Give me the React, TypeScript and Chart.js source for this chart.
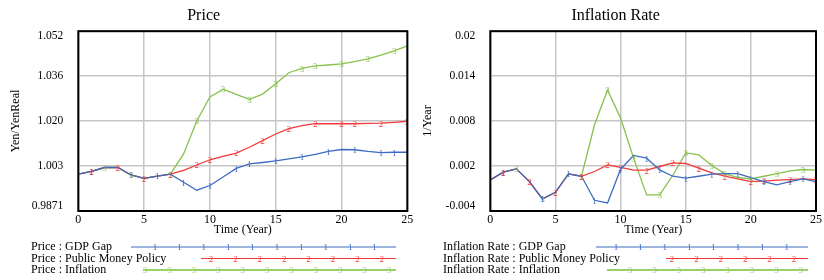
import React, { useEffect, useRef } from 'react';
import { Chart, registerables } from 'chart.js';

Chart.register(...registerables);

const years = [0, 1, 2, 3, 4, 5, 6, 7, 8, 9, 10, 11, 12, 13, 14, 15, 16, 17, 18, 19, 20, 21, 22, 23, 24, 25];

const priceGdpGap = [1.0004, 1.0014, 1.0028, 1.0028, 1.0001, 0.9989, 0.9997, 1.0004, 0.9975, 0.9946, 0.9963, 0.9994, 1.0025, 1.0041, 1.0046, 1.0052, 1.0059, 1.0066, 1.0075, 1.0086, 1.0093, 1.0092, 1.0086, 1.0082, 1.0083, 1.0083];
const pricePublicMoney = [1.0004, 1.0014, 1.0028, 1.0028, 1.0001, 0.9989, 0.9997, 1.0004, 1.0018, 1.0037, 1.0056, 1.0068, 1.0080, 1.0101, 1.0125, 1.0149, 1.0168, 1.0179, 1.0186, 1.0186, 1.0186, 1.0186, 1.0187, 1.0188, 1.0191, 1.0195];
const priceInflation = [1.0004, 1.0014, 1.0028, 1.0028, 1.0001, 0.9989, 0.9997, 1.0004, 1.0077, 1.0196, 1.0283, 1.0311, 1.0292, 1.0274, 1.0293, 1.0330, 1.0370, 1.0386, 1.0395, 1.0398, 1.0402, 1.0410, 1.0420, 1.0434, 1.0449, 1.0467];

const rateGdpGap = [0.00015, 0.00118, 0.00162, -0.00007, -0.0024, -0.0015, 0.00095, 0.00064, -0.00257, -0.00293, 0.00158, 0.00341, 0.00305, 0.00149, 0.00064, 0.00038, 0.00064, 0.00091, 0.001, 0.001, 0.00047, -0.00007, -0.00052, -0.00007, 0.00028, -0.00007];
const ratePublicMoney = [0.00015, 0.00118, 0.00162, -0.00007, -0.0024, -0.0015, 0.00095, 0.00064, 0.00127, 0.00215, 0.00181, 0.00145, 0.00145, 0.00194, 0.00242, 0.00234, 0.00171, 0.00108, 0.00064, 0.00028, -0.00007, 0.0, 0.00011, 0.0002, 0.00028, 0.0002];
const rateInflation = [0.00015, 0.00118, 0.00162, -0.00007, -0.0024, -0.0015, 0.00095, 0.00064, 0.00751, 0.01215, 0.0084, 0.00305, -0.00186, -0.00186, 0.00074, 0.00376, 0.00349, 0.00207, 0.001, 0.00047, 0.00028, 0.00064, 0.001, 0.00135, 0.00154, 0.00145];

const priceTickValues = [0.9871, 1.003325, 1.01955, 1.035775, 1.052];
const priceTickLabels = ['0.9871', '1.003', '1.020', '1.036', '1.052'];
const rateTickValues = [-0.004, 0.002, 0.008, 0.014, 0.02];
const rateTickLabels = ['-0.004', '0.002', '0.008', '0.014', '0.02'];

const seriesNames = ['GDP Gap', 'Public Money Policy', 'Inflation'];
const seriesDigits = ['1', '2', '3'];
const markerYears = [
  [1, 4, 6, 8, 10, 12, 13, 15, 17, 19, 21, 23, 24],
  [1, 3, 5, 7, 9, 10, 12, 14, 16, 18, 20, 21, 23, 25],
  [2, 4, 7, 9, 11, 13, 15, 17, 18, 20, 22, 24],
];

const COLORS = ['#3d6cc0', '#f23a3a', '#86c24e'];
const LEGEND_COLORS = ['#3d6cc0', '#f23a3a', '#9ad06c'];
const SERIF = "'Liberation Serif', 'Times New Roman', serif";

type LegendRow = { lineStart: number; markerStart: number; count: number };

const priceLegend: LegendRow[] = [
  { lineStart: 131, markerStart: 155, count: 10 },
  { lineStart: 201, markerStart: 211, count: 8 },
  { lineStart: 143, markerStart: 145, count: 11 },
];
const rateLegend: LegendRow[] = [
  { lineStart: 184, markerStart: 204, count: 8 },
  { lineStart: 254, markerStart: 260, count: 6 },
  { lineStart: 195, markerStart: 218, count: 8 },
];

function makeConfig(
  title: string,
  prefix: string,
  yTitle: string,
  series: number[][],
  tickValues: number[],
  tickLabels: string[],
  legend: LegendRow[],
  rightPad: number
) {
  const markerPlugin = {
    id: 'markers',
    afterDatasetsDraw(chart: any) {
      const ctx = chart.ctx;
      const a = chart.chartArea;
      ctx.save();
      ctx.beginPath();
      ctx.rect(a.left, a.top - 6, a.right - a.left, a.bottom - a.top + 12);
      ctx.clip();
      ctx.font = `9px ${SERIF}`;
      ctx.textAlign = 'center';
      ctx.textBaseline = 'middle';
      for (let i = series.length - 1; i >= 0; i--) {
        const meta = chart.getDatasetMeta(i);
        ctx.fillStyle = COLORS[i];
        markerYears[i].forEach((yr) => {
          const idx = years.indexOf(yr);
          const p = meta.data[idx];
          if (p) ctx.fillText(seriesDigits[i], p.x, p.y + 1);
        });
      }
      ctx.restore();
    },
    afterDraw(chart: any) {
      const ctx = chart.ctx;
      const a = chart.chartArea;
      ctx.save();
      ctx.strokeStyle = '#000';
      ctx.lineWidth = 2;
      ctx.strokeRect(a.left, a.top, a.right - a.left, a.bottom - a.top);
      // legend
      const rowY = [247, 258.5, 270];
      const step = 24.4;
      const lineEnd = 396;
      ctx.textBaseline = 'middle';
      for (let i = 0; i < legend.length; i++) {
        const row = legend[i];
        const y = rowY[i];
        ctx.fillStyle = '#000';
        ctx.textAlign = 'left';
        ctx.font = `12px ${SERIF}`;
        ctx.fillText(`${prefix} : ${seriesNames[i]}`, 31, y);
        ctx.strokeStyle = LEGEND_COLORS[i];
        ctx.lineWidth = i === 2 ? 2 : 1.2;
        ctx.beginPath();
        ctx.moveTo(row.lineStart, y);
        ctx.lineTo(lineEnd, y);
        ctx.stroke();
        ctx.fillStyle = LEGEND_COLORS[i];
        ctx.textAlign = 'center';
        ctx.font = `9px ${SERIF}`;
        for (let k = 0; k < row.count; k++) {
          ctx.fillText(seriesDigits[i], row.markerStart + k * step, y + 1);
        }
      }
      ctx.restore();
    },
  };

  const last = tickLabels.length - 1;

  return {
    type: 'line' as const,
    data: {
      datasets: series.map((vals, i) => ({
        label: `${prefix} : ${seriesNames[i]}`,
        data: years.map((t, k) => ({ x: t, y: vals[k] })),
        borderColor: COLORS[i],
        backgroundColor: COLORS[i],
        borderWidth: 1.3,
        pointRadius: 0,
        tension: 0,
        fill: false,
      })),
    },
    options: {
      responsive: false,
      animation: false as const,
      layout: { padding: { top: 0, left: 0, right: rightPad, bottom: 39 } },
      plugins: {
        legend: { display: false },
        tooltip: { enabled: false },
        title: {
          display: true,
          text: title,
          color: '#000',
          font: { family: SERIF, size: 16, weight: 'normal' as const },
          padding: { top: 6, bottom: 6 },
        },
      },
      scales: {
        x: {
          type: 'linear' as const,
          min: 0,
          max: 25,
          afterFit: (s: any) => { s.height = 30; },
          ticks: {
            stepSize: 5,
            color: '#000',
            padding: 2,
            maxRotation: 0,
            font: { family: SERIF, size: 12 },
          },
          grid: { color: '#c6c6c6', lineWidth: 1.5, drawTicks: false },
          border: { display: false },
          title: {
            display: true,
            text: 'Time (Year)',
            color: '#000',
            font: { family: SERIF, size: 12 },
            padding: { top: 0, bottom: 4 },
          },
        },
        y: {
          type: 'linear' as const,
          min: tickValues[0],
          max: tickValues[last],
          afterFit: (s: any) => { s.width = 78.3; },
          afterBuildTicks: (s: any) => { s.ticks = tickValues.map((v) => ({ value: v })); },
          ticks: {
            color: '#000',
            padding: 15,
            font: { family: SERIF, size: 11.5, lineHeight: 0.9 },
            callback: (_v: any, i: number) => {
              if (i === last) return ['', tickLabels[i]];
              if (i === 0) return [tickLabels[i], ''];
              return tickLabels[i];
            },
          },
          grid: { color: '#c6c6c6', lineWidth: 1.5, drawTicks: false },
          border: { display: false },
          title: {
            display: true,
            text: yTitle,
            color: '#000',
            font: { family: SERIF, size: 12 },
            padding: { top: 9, bottom: 0 },
          },
        },
      },
    },
    plugins: [markerPlugin],
  };
}

function ChartCanvas({ config, width, height, left }: { config: any; width: number; height: number; left: number }) {
  const ref = useRef<HTMLCanvasElement | null>(null);
  useEffect(() => {
    if (!ref.current) return;
    const chart = new Chart(ref.current, config);
    return () => chart.destroy();
  }, [config]);
  return (
    <canvas
      ref={ref}
      width={width}
      height={height}
      style={{ position: 'absolute', left, top: 0, width, height }}
    />
  );
}

const priceConfig = makeConfig(
  'Price',
  'Price',
  'Yen/YenReal',
  [priceGdpGap, pricePublicMoney, priceInflation],
  priceTickValues,
  priceTickLabels,
  priceLegend,
  12.7
);
const rateConfig = makeConfig(
  'Inflation Rate',
  'Inflation Rate',
  '1/Year',
  [rateGdpGap, ratePublicMoney, rateInflation],
  rateTickValues,
  rateTickLabels,
  rateLegend,
  4.7
);

export default function App() {
  return (
    <div style={{ position: 'fixed', left: 0, top: 0, width: 824, height: 280, background: '#fff', overflow: 'hidden' }}>
      <ChartCanvas config={priceConfig} width={420} height={280} left={0} />
      <ChartCanvas config={rateConfig} width={412} height={280} left={412} />
    </div>
  );
}
